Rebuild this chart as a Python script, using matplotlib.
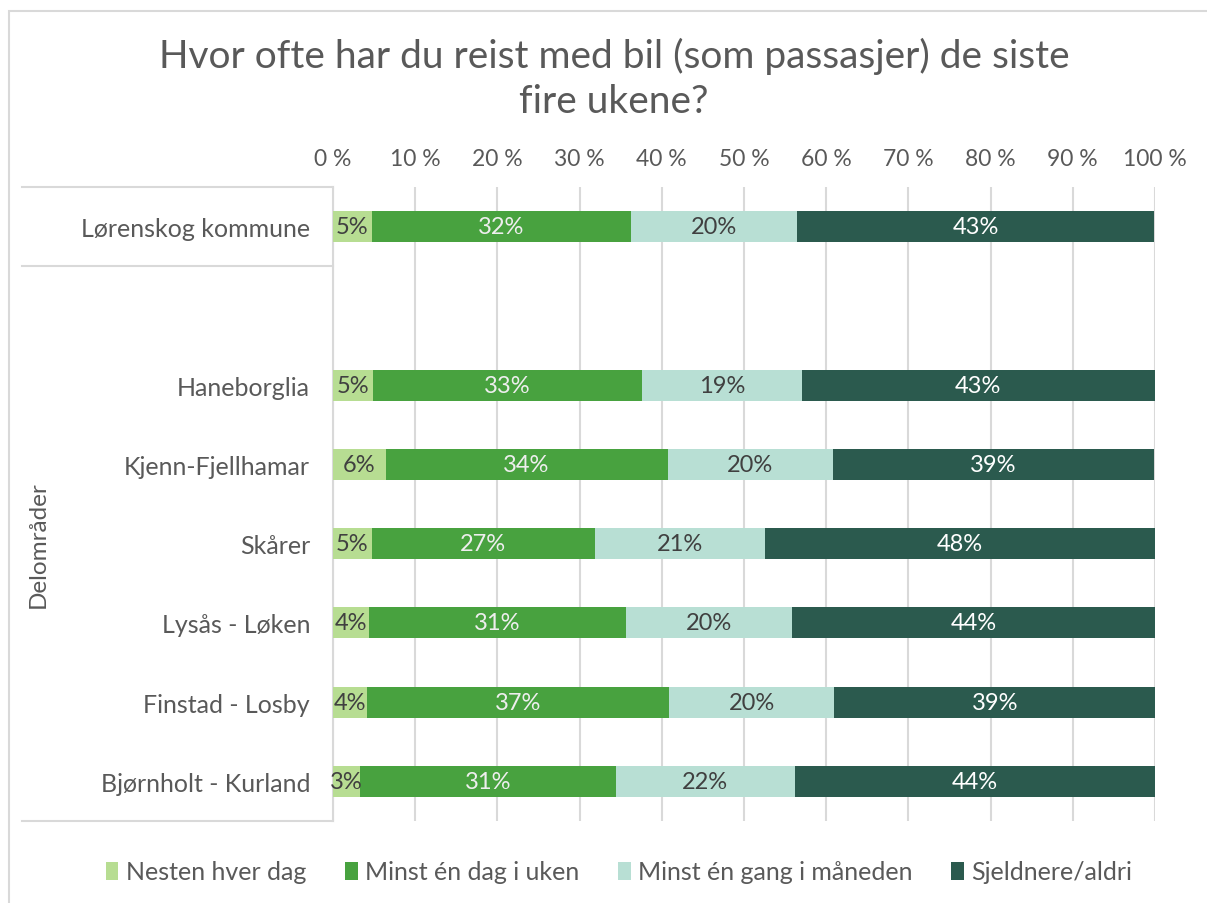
import matplotlib.pyplot as plt
from matplotlib.patches import Patch, Rectangle
from matplotlib.lines import Line2D

plt.rcParams['font.family'] = ['Lato', 'DejaVu Sans']

# Data (share of respondents, %)
omraader = ["Lørenskog kommune", "Haneborglia", "Kjenn-Fjellhamar", "Skårer",
            "Lysås - Løken", "Finstad - Losby", "Bjørnholt - Kurland"]
y_pos = [0, 2, 3, 4, 5, 6, 7]  # slot 1 is left empty between the groups
nesten_hver_dag = [4.7, 4.9, 6.4, 4.7, 4.4, 4.1, 3.3]
minst_dag_uke = [31.6, 32.7, 34.3, 27.2, 31.2, 36.8, 31.1]
minst_gang_mnd = [20.2, 19.4, 20.1, 20.6, 20.2, 20.1, 21.8]
sjeldnere = [43.4, 43.0, 39.1, 47.6, 44.2, 39.0, 43.8]
serier = ["Nesten hver dag", "Minst én dag i uken", "Minst én gang i måneden", "Sjeldnere/aldri"]
farger = ["#b7dd92", "#48a23f", "#b8dfd4", "#2b5a4e"]
tekstfarger = ["#404040", "#eeeeee", "#404040", "#ffffff"]
x_ticks = [0, 10, 20, 30, 40, 50, 60, 70, 80, 90, 100]

grey = "#595959"
grid = "#d9d9d9"

fig = plt.figure(figsize=(12.07, 9.04), dpi=100)
W, H = 1207, 904

# outer chart border
fig.patches.append(Rectangle((9 / W, -0.05), 1.1, (H - 12) / H + 0.05, transform=fig.transFigure,
                             fill=False, edgecolor=grid, lw=1.5))

ax = fig.add_axes([333 / W, (H - 822) / H, 822 / W, (822 - 188) / H])

left = [0] * len(omraader)
for verdier, navn, farge, tf in zip([nesten_hver_dag, minst_dag_uke, minst_gang_mnd, sjeldnere],
                                    serier, farger, tekstfarger):
    bars = ax.barh(y_pos, verdier, left=left, height=0.39, color=farge, label=navn, zorder=3)
    for b, v in zip(bars, verdier):
        ax.text(b.get_x() + b.get_width() / 2, b.get_y() + b.get_height() / 2, f"{v:.0f}%",
                ha='center', va='center', fontsize=17, color=tf, zorder=4)
    left = [l + v for l, v in zip(left, verdier)]

ax.set_xlim(0, 100)
ax.set_ylim(7.5, -0.5)
ax.set_xticks(x_ticks)
ax.set_xticklabels([f"{t} %" for t in x_ticks], fontsize=16.5, color=grey)
ax.xaxis.tick_top()
ax.tick_params(axis='x', length=0, pad=13)
ax.grid(axis='x', color=grid, lw=1.5, zorder=0)
ax.set_yticks(y_pos)
ax.set_yticklabels(omraader, fontsize=18, color=grey)
ax.tick_params(axis='y', length=0, pad=16.5)
for s in ['top', 'right', 'bottom']:
    ax.spines[s].set_visible(False)
ax.spines['left'].set_color(grid)
ax.spines['left'].set_linewidth(1.5)

# multi-level category lines
for yy in [188, 267, 822]:
    fig.add_artist(Line2D([22 / W, 333 / W], [(H - yy) / H] * 2, color=grid, lw=1.5))
fig.text(38 / W, (H - 545) / H, "Delområder", rotation=90, ha='center', va='center',
         fontsize=17.5, color=grey)

fig.text(614 / W, (H - 79) / H, "Hvor ofte har du reist med bil (som passasjer) de siste\nfire ukene?",
         ha='center', va='center', fontsize=28, color=grey, linespacing=1.3)

handles = [Patch(facecolor=f, edgecolor='none') for f in farger]
fig.legend(handles, serier, loc='center', bbox_to_anchor=(619 / W, (H - 873) / H), ncol=4,
           frameon=False, fontsize=18, labelcolor=grey, handlelength=0.5, handleheight=0.7,
           handletextpad=0.3, columnspacing=1.55)

fig.savefig("out.png", dpi=100)
